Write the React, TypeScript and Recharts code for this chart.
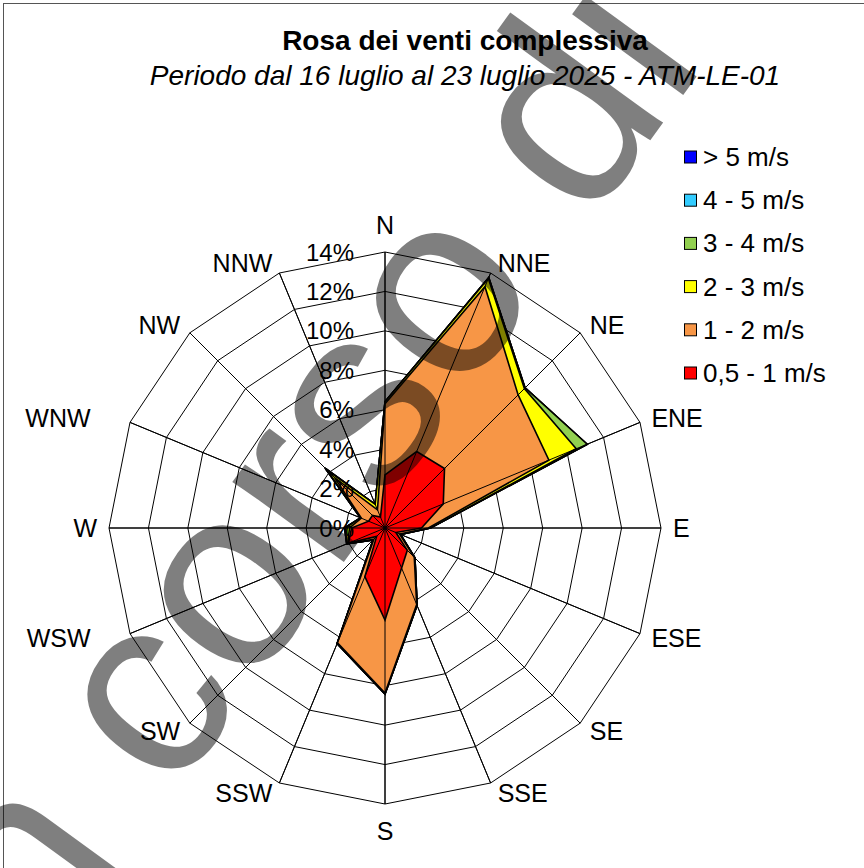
import React from 'react';
import { RadarChart, Radar, PolarGrid, PolarAngleAxis, PolarRadiusAxis } from 'recharts';

const directions = ['N', 'NNE', 'NE', 'ENE', 'E', 'ESE', 'SE', 'SSE', 'S', 'SSW', 'SW', 'WSW', 'W', 'WNW', 'NW', 'NNW'];
// frequency (%) of each speed class per direction
const speed05to1 = [2.7, 4.2, 4.27, 3.2, 1.85, 0.6, 1.6, 2.2, 4.67, 2.67, 0.6, 2.0, 1.7, 0.9, 0.9, 0.6];
const speed1to2 = [3.6, 9.05, 5.28, 5.8, 0.35, 0.2, 0.5, 2.0, 3.7, 3.63, 0.2, 0.05, 0.1, 0.4, 2.7, 0.4];
const speed2to3 = [0.1, 0.45, 0.45, 1.5, 0.1, 0.05, 0.05, 0.05, 0.05, 0.05, 0.05, 0.05, 0.2, 0.05, 0.5, 0.3];
const speed3to4 = [0, 0.05, 0.05, 0.6, 0, 0, 0, 0, 0, 0, 0, 0, 0.05, 0, 0.2, 0];
const speed4to5 = [0, 0, 0, 0, 0, 0, 0, 0, 0, 0, 0, 0, 0, 0, 0, 0];
const speedOver5 = [0, 0, 0, 0, 0, 0, 0, 0, 0, 0, 0, 0, 0, 0, 0, 0];

const radiusTicks = [0, 2, 4, 6, 8, 10, 12, 14];
const seriesKeys = ['over5', 's4to5', 's3to4', 's2to3', 's1to2', 's05to1'];
const seriesNames = ['> 5 m/s', '4 - 5 m/s', '3 - 4 m/s', '2 - 3 m/s', '1 - 2 m/s', '0,5 - 1 m/s'];
const seriesColors = ['#0000FF', '#33CCFF', '#92D050', '#FFFF00', '#F79646', '#FF0000'];

const titleText = 'Rosa dei venti complessiva';
const subtitleText = 'Periodo dal 16 luglio al 23 luglio 2025 - ATM-LE-01';
const watermarkText = 'in corso di validazione';

const axisMax = radiusTicks[radiusTicks.length - 1];

// stacked (cumulative) table for the wind rose
const data = directions.map((dir, i) => {
  const c1 = speed05to1[i];
  const c2 = c1 + speed1to2[i];
  const c3 = c2 + speed2to3[i];
  const c4 = c3 + speed3to4[i];
  const c5 = c4 + speed4to5[i];
  const c6 = c5 + speedOver5[i];
  return { dir, s05to1: c1, s1to2: c2, s2to3: c3, s3to4: c4, s4to5: c5, over5: c6, spoke: axisMax };
});

const FONT = '"Liberation Sans", Arial, sans-serif';

const AngleTick = (props: any) => {
  const { payload, cx, cy, radius } = props;
  const a = (payload.coordinate * Math.PI) / 180;
  const s = Math.cos(a);
  const c = Math.sin(a);
  const vx = cx + radius * s;
  const vy = cy - radius * c;
  let anchor: 'start' | 'middle' | 'end' = 'middle';
  let x = vx;
  let y = vy;
  if (Math.abs(s) < 0.1) {
    y = vy - Math.sign(c) * 27;
  } else {
    anchor = s > 0 ? 'start' : 'end';
    x = vx + Math.sign(s) * (4 + 8 * Math.abs(s));
    if (payload.value === 'WNW' || payload.value === 'WSW') x -= 28;
    y = vy - 11 * c;
  }
  return (
    <text x={x} y={y + 9} textAnchor={anchor} fontSize={25} fontFamily={FONT} fill="#000">
      {payload.value}
    </text>
  );
};

const RadiusTick = (props: any) => {
  const { x, y, payload } = props;
  return (
    <text x={x - 31} y={y + 8.5} textAnchor="end" fontSize={24} fontFamily={FONT} fill="#000">
      {`${payload.value}%`}
    </text>
  );
};

// radial category lines drawn above the filled areas (as Excel does)
const SpokeShape = (props: any) => {
  const pts = props.points || [];
  return (
    <g>
      {pts.map((pt: any, i: number) => (
        <line key={i} x1={pt.cx ?? 385} y1={pt.cy ?? 528} x2={pt.x} y2={pt.y} stroke="#000" strokeWidth={1} />
      ))}
    </g>
  );
};

export default function App() {
  return (
    <div style={{ position: 'absolute', left: 0, top: 0, width: 864, height: 868, overflow: 'hidden', background: '#fff' }}>
      <div
        style={{
          position: 'absolute',
          left: 3,
          top: 3,
          width: 900,
          height: 900,
          borderTop: '1px solid #555',
          borderLeft: '1px solid #555',
        }}
      />
      <RadarChart
        width={864}
        height={868}
        cx={385}
        cy={528}
        outerRadius={276}
        data={data}
        margin={{ top: 0, right: 0, bottom: 0, left: 0 }}
        style={{ position: 'absolute', left: 0, top: 0 }}
      >
        <PolarGrid gridType="polygon" stroke="#000" strokeWidth={1} />
        <PolarAngleAxis dataKey="dir" tick={<AngleTick />} tickLine={false} axisLine={false} />
        <PolarRadiusAxis
          angle={90}
          domain={[0, axisMax]}
          ticks={radiusTicks}
          tickCount={8}
          tick={<RadiusTick />}
          axisLine={false}
          tickLine={false}
        />
        {seriesKeys.map((k, i) => (
          <Radar
            key={k}
            name={seriesNames[i]}
            dataKey={k}
            fill={seriesColors[i]}
            fillOpacity={1}
            stroke="#000"
            strokeWidth={1.6}
            isAnimationActive={false}
          />
        ))}
        <Radar dataKey="spoke" legendType="none" isAnimationActive={false} shape={<SpokeShape />} />
      </RadarChart>
      <svg width={864} height={868} style={{ position: 'absolute', left: 0, top: 0, pointerEvents: 'none' }}>
        <text x={465} y={50} textAnchor="middle" fontSize={28} fontWeight="bold" fontFamily={FONT} fill="#000">
          {titleText}
        </text>
        <text x={465} y={85} textAnchor="middle" fontSize={28} fontStyle="italic" fontFamily={FONT} fill="#000">
          {subtitleText}
        </text>
        {seriesNames.map((n, i) => (
          <g key={n}>
            <rect x={684.5} y={151 + i * 43.2} width={12} height={12} fill={seriesColors[i]} stroke="#000" strokeWidth={1} />
            <text x={703} y={166 + i * 43.2} fontSize={26} fontFamily={FONT} fill="#000">
              {n}
            </text>
          </g>
        ))}
        <text
          x={-838}
          y={68}
          transform="translate(448 303) rotate(-54)"
          fontSize={260}
          fontFamily={FONT}
          fill="#000"
          fillOpacity={0.5}
        >
          {watermarkText}
        </text>
      </svg>
    </div>
  );
}
